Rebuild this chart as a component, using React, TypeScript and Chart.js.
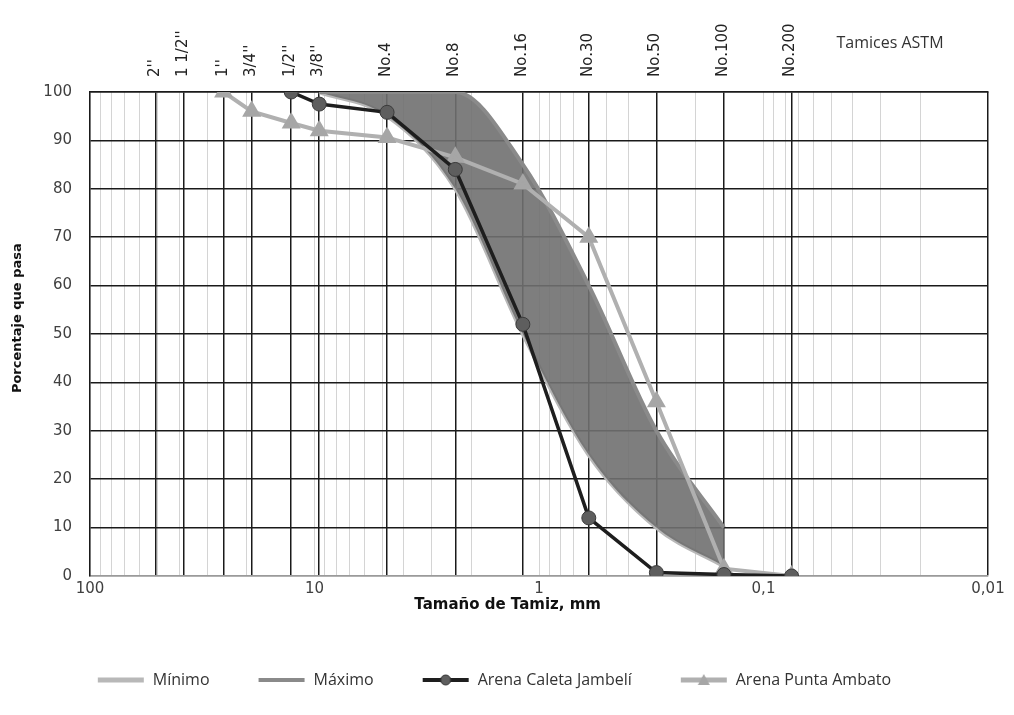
import React, { useEffect, useRef } from "react";
import { Chart, registerables } from "chart.js";

Chart.register(...registerables);

// ---- Data ----
const sieveLabels = ["2''", "1 1/2''", "1''", "3/4''", "1/2''", "3/8''", "No.4", "No.8", "No.16", "No.30", "No.50", "No.100", "No.200"];
const sieveSizes = [50.8, 38.1, 25.4, 19.05, 12.7, 9.525, 4.75, 2.36, 1.18, 0.6, 0.3, 0.15, 0.075];

const limitSizes = [9.525, 4.75, 2.36, 1.18, 0.6, 0.3, 0.15];
const minimo = [100, 95, 80, 50, 25, 10, 2];
const maximo = [100, 100, 100, 85, 60, 30, 10];

const jambeliSizes = [12.7, 9.525, 4.75, 2.36, 1.18, 0.6, 0.3, 0.15, 0.075];
const jambeli = [100, 97.5, 95.8, 84, 52, 12, 0.7, 0.3, 0];

const ambatoSizes = [25.4, 19.05, 12.7, 9.525, 4.75, 2.36, 1.18, 0.6, 0.3, 0.15, 0.075];
const ambato = [100, 96, 93.6, 92, 90.6, 86.5, 81, 70, 36, 1.5, 0];

const seriesNames = ["Mínimo", "Máximo", "Arena Caleta Jambelí", "Arena Punta Ambato"];
const xTitle = "Tamaño de Tamiz, mm";
const yTitle = "Porcentaje que pasa";
const noteText = "Tamices ASTM";
const decadeLabels: Record<string, string> = { "100": "100", "10": "10", "1": "1", "0.1": "0,1", "0.01": "0,01" };

const minorTicks: number[] = [];
for (let e = -2; e <= 1; e++) {
  for (let m = 1; m <= 9; m++) minorTicks.push(parseFloat((m * Math.pow(10, e)).toPrecision(6)));
}
minorTicks.push(100);

const pts = (xs: number[], ys: number[]) => xs.map((x, i) => ({ x, y: ys[i] }));

function makeIcon(kind: string): HTMLCanvasElement {
  const c = document.createElement("canvas");
  c.width = 48;
  c.height = 16;
  const g = c.getContext("2d")!;
  const mid = 8;
  const line = (color: string, w: number) => {
    g.strokeStyle = color;
    g.lineWidth = w;
    g.beginPath();
    g.moveTo(1, mid);
    g.lineTo(47, mid);
    g.stroke();
  };
  if (kind === "min") line("#b8b8b8", 5);
  if (kind === "max") line("#8a8a8a", 4);
  if (kind === "jam") {
    line("#1e1e1e", 4);
    g.fillStyle = "#5e5e5e";
    g.strokeStyle = "#333";
    g.lineWidth = 1;
    g.beginPath();
    g.arc(24, mid, 5, 0, Math.PI * 2);
    g.fill();
    g.stroke();
  }
  if (kind === "amb") {
    line("#b0b0b0", 5);
    g.fillStyle = "#a6a6a6";
    g.beginPath();
    g.moveTo(24, mid - 6);
    g.lineTo(30, mid + 5);
    g.lineTo(18, mid + 5);
    g.closePath();
    g.fill();
  }
  return c;
}

const notePlugin = {
  id: "notePlugin",
  afterDraw(chart: any) {
    const ctx = chart.ctx;
    ctx.save();
    ctx.font = '16px "Open Sans"';
    ctx.fillStyle = "#333";
    ctx.textAlign = "center";
    ctx.textBaseline = "middle";
    ctx.fillText(noteText, chart.chartArea.right - 98, 43);
    ctx.restore();
  },
};

export default function App() {
  const ref = useRef<HTMLCanvasElement | null>(null);

  useEffect(() => {
    if (!ref.current) return;
    const icons = [makeIcon("min"), makeIcon("max"), makeIcon("jam"), makeIcon("amb")];
    const chart = new Chart(ref.current, {
      type: "line",
      data: {
        datasets: [
          {
            label: seriesNames[0],
            data: pts(limitSizes, minimo),
            borderColor: "#b8b8b8",
            borderWidth: 4,
            pointRadius: 0,
            cubicInterpolationMode: "monotone",
            fill: false,
            order: 3,
          },
          {
            label: seriesNames[1],
            data: pts(limitSizes, maximo),
            borderColor: "#8a8a8a",
            borderWidth: 4,
            pointRadius: 0,
            cubicInterpolationMode: "monotone",
            fill: "-1",
            backgroundColor: "rgba(112,112,112,0.9)",
            order: 2,
          },
          {
            label: seriesNames[2],
            data: pts(jambeliSizes, jambeli),
            borderColor: "#1e1e1e",
            borderWidth: 3.5,
            pointRadius: 7,
            pointBackgroundColor: "#5e5e5e",
            pointBorderColor: "#3a3a3a",
            pointBorderWidth: 1,
            tension: 0,
            fill: false,
            order: 0,
          },
          {
            label: seriesNames[3],
            data: pts(ambatoSizes, ambato),
            borderColor: "#b0b0b0",
            borderWidth: 4,
            pointStyle: "triangle",
            pointRadius: 7,
            pointBackgroundColor: "#a6a6a6",
            pointBorderColor: "#a6a6a6",
            tension: 0,
            fill: false,
            order: 1,
          },
        ],
      },
      options: {
        responsive: false,
        animation: false,
        layout: { padding: { left: 0, right: 26, top: 0, bottom: 17 } },
        plugins: {
          tooltip: { enabled: false },
          legend: {
            position: "bottom",
            labels: {
              usePointStyle: true,
              pointStyleWidth: 48,
              boxHeight: 16,
              padding: 48,
              color: "#333",
              font: { family: '"Open Sans"', size: 16 },
              sort: (a: any, b: any) => a.datasetIndex - b.datasetIndex,
              generateLabels: (chart: any) =>
                chart.data.datasets.map((ds: any, i: number) => ({
                  text: ds.label,
                  datasetIndex: i,
                  pointStyle: icons[i],
                  fillStyle: "transparent",
                  strokeStyle: "transparent",
                  lineWidth: 0,
                  fontColor: "#333",
                  hidden: false,
                })),
            },
          },
        },
        scales: {
          x: {
            type: "logarithmic",
            position: "bottom",
            reverse: true,
            min: 0.01,
            max: 100,
            afterBuildTicks: (scale: any) => {
              scale.ticks = minorTicks.map((v) => ({ value: v }));
            },
            afterFit: (scale: any) => {
              scale.height = 48;
            },
            ticks: {
              autoSkip: false,
              maxRotation: 0,
              minRotation: 0,
              padding: 4,
              color: "#404040",
              font: { family: '"DejaVu Sans"', size: 15 },
              callback: (v: any) => {
                const key = String(parseFloat(Number(v).toPrecision(6)));
                return decadeLabels[key] ?? "";
              },
            },
            grid: {
              drawTicks: false,
              color: (c: any) => {
                const v = c.tick?.value;
                if (v === 0.01) return "#1a1a1a";
                return "#d4d4d4";
              },
              lineWidth: (c: any) => (c.tick?.value === 0.01 ? 1.5 : 1),
            },
            border: { display: true, color: "#9a9a9a", width: 1.5 },
            title: {
              display: true,
              text: xTitle + "            ",
              color: "#111",
              font: { family: '"DejaVu Sans"', size: 15, weight: "bold" },
              padding: { top: 0, bottom: 10 },
            },
          },
          x2: {
            type: "logarithmic",
            position: "top",
            reverse: true,
            min: 0.01,
            max: 100,
            afterBuildTicks: (scale: any) => {
              scale.ticks = sieveSizes.map((v) => ({ value: v }));
            },
            afterFit: (scale: any) => {
              scale.height = 92;
            },
            ticks: {
              autoSkip: false,
              minRotation: 90,
              maxRotation: 90,
              padding: 15,
              labelOffset: 17,
              color: "#222",
              font: { family: '"DejaVu Sans"', size: 15 },
              callback: (_v: any, i: number) => sieveLabels[i],
            },
            grid: { drawTicks: false, color: "#1a1a1a", lineWidth: 1.5 },
            border: { display: true, color: "#1a1a1a", width: 1.5 },
          },
          y: {
            min: 0,
            max: 100,
            afterFit: (scale: any) => {
              scale.width = 90;
            },
            ticks: {
              stepSize: 10,
              padding: 18,
              color: "#404040",
              font: { family: '"DejaVu Sans"', size: 15 },
            },
            grid: {
              drawTicks: false,
              color: (c: any) => (c.tick?.value === 0 ? "#9a9a9a" : "#1a1a1a"),
              lineWidth: 1.5,
            },
            border: { display: true, color: "#1a1a1a", width: 1.5 },
            title: {
              display: true,
              text: "       " + yTitle,
              color: "#111",
              font: { family: '"DejaVu Sans"', size: 13, weight: "bold" },
              padding: { top: 10, bottom: 0 },
            },
          },
        },
      } as any,
      plugins: [notePlugin],
    });
    return () => chart.destroy();
  }, []);

  return (
    <div style={{ position: "fixed", left: 0, top: 0, width: 1014, height: 715, background: "#fff" }}>
      <canvas ref={ref} width={1014} height={715} />
    </div>
  );
}
